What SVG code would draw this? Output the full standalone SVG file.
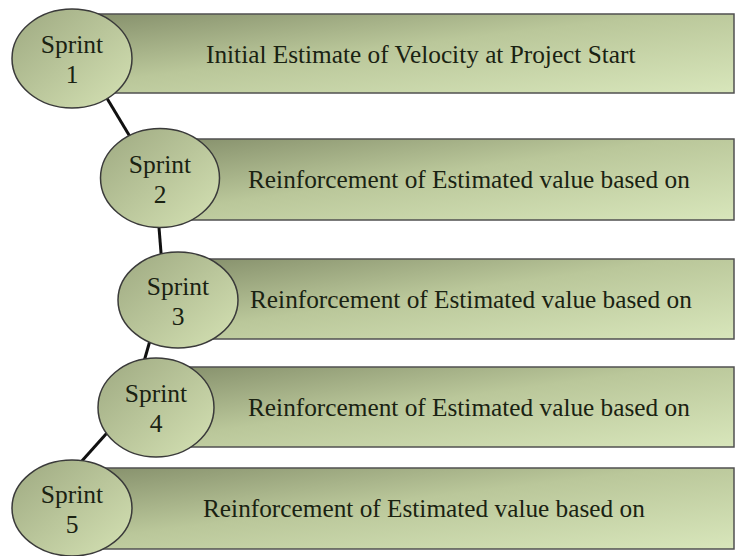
<svg xmlns="http://www.w3.org/2000/svg" width="735" height="556" viewBox="0 0 735 556">
<defs>
<linearGradient id="gBar" x1="0" y1="0" x2="1" y2="1">
<stop offset="0" stop-color="#858f6b"/>
<stop offset="0.45" stop-color="#bac79a"/>
<stop offset="1" stop-color="#d8e6bb"/>
</linearGradient>
<linearGradient id="gEl" x1="0" y1="0" x2="1" y2="1">
<stop offset="0" stop-color="#9ea981"/>
<stop offset="1" stop-color="#d5e2b4"/>
</linearGradient>
<style>
.bar{fill:url(#gBar);stroke:#505050;stroke-width:1.5}
.el{fill:url(#gEl);stroke:#3a3a3a;stroke-width:1.5}
.t{font-family:"Liberation Serif","Times New Roman",serif;font-size:25.3px;fill:#1a2212}
.s{font-family:"Liberation Serif","Times New Roman",serif;font-size:25.5px;fill:#1a2212;text-anchor:middle}
.c{fill:none;stroke:#111;stroke-width:3}
</style>
</defs>
<rect width="735" height="556" fill="#fff"/>
<g id="connectors">
<path class="c" d="M96,80 L138,150"/>
<path class="c" d="M158,215 L162,265"/>
<path class="c" d="M153,330 L141,372"/>
<path class="c" d="M115,424 L72,472"/>
</g>
<g id="sprint1">
<rect class="bar" x="72" y="14" width="662" height="79"/>
<text class="t" x="206" y="63">Initial Estimate of Velocity at Project Start</text>
<ellipse class="el" cx="72" cy="58.5" rx="60" ry="49.5"/>
<text class="s" x="72" y="53">Sprint</text>
<text class="s" x="72" y="83">1</text>
</g>
<g id="sprint2">
<rect class="bar" x="160" y="139" width="574" height="81"/>
<text class="t" x="248" y="188">Reinforcement of Estimated value based on</text>
<ellipse class="el" cx="160" cy="178" rx="59.5" ry="49.5"/>
<text class="s" x="160" y="173">Sprint</text>
<text class="s" x="160" y="203">2</text>
</g>
<g id="sprint3">
<rect class="bar" x="178" y="259" width="556" height="80"/>
<text class="t" x="250" y="308">Reinforcement of Estimated value based on</text>
<ellipse class="el" cx="178" cy="300" rx="60" ry="48"/>
<text class="s" x="178" y="295">Sprint</text>
<text class="s" x="178" y="325">3</text>
</g>
<g id="sprint4">
<rect class="bar" x="156" y="367" width="578" height="80"/>
<text class="t" x="248" y="416">Reinforcement of Estimated value based on</text>
<ellipse class="el" cx="156" cy="407.5" rx="58" ry="49.5"/>
<text class="s" x="156" y="402">Sprint</text>
<text class="s" x="156" y="432">4</text>
</g>
<g id="sprint5">
<rect class="bar" x="72" y="468" width="662" height="81"/>
<text class="t" x="203" y="517">Reinforcement of Estimated value based on</text>
<ellipse class="el" cx="72" cy="508" rx="60" ry="48"/>
<text class="s" x="72" y="503">Sprint</text>
<text class="s" x="72" y="533">5</text>
</g>
</svg>
